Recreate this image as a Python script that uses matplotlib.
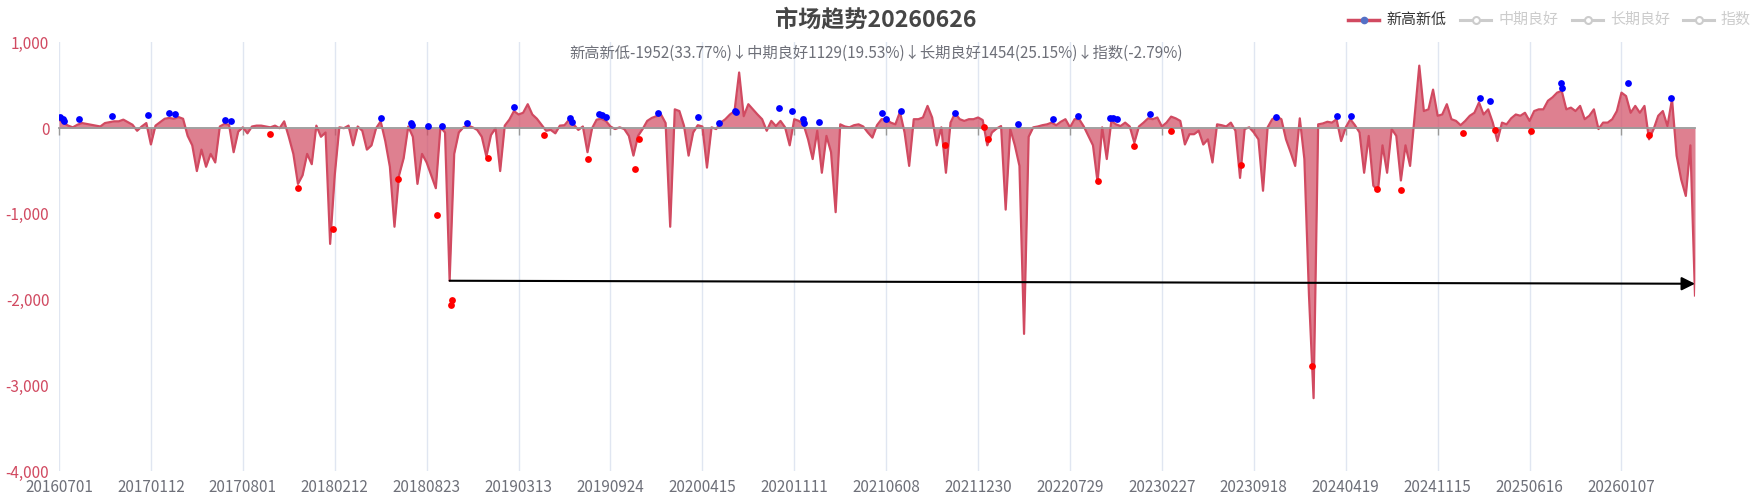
import numpy as np
import matplotlib
matplotlib.use("Agg")
import matplotlib.pyplot as plt
from matplotlib.lines import Line2D
from matplotlib.ticker import FuncFormatter

plt.rcParams['font.family'] = ['Noto Sans CJK SC', 'DejaVu Sans']

# ---- data (one value per sample step) ----
tick_labels = ['20160701', '20170112', '20170801', '20180212', '20180823',
               '20190313', '20190924', '20200415', '20201111', '20210608',
               '20211230', '20220729', '20230227', '20230918', '20240419',
               '20241115', '20250616', '20260107']
samples_per_tick = 20

xin_gao_xin_di = [
    100, 60, 30, 10, 40, 60, 50, 40, 30, 20, 60, 70, 80, 80, 100, 70, 40, -30, 20, 60,
    -190, 30, 70, 110, 120, 110, 130, 110, -90, -200, -500, -250, -450, -300, -400, 20, 50, 40, -280, -40,
    10, -60, 20, 30, 30, 20, 10, 30, 0, 80, -100, -300, -650, -550, -300, -420, 30, -100, -50, -1350,
    -550, 10, 0, 30, -200, 20, -30, -250, -200, 0, 80, -150, -450, -1150, -550, -350, 20, -100, -650, -300,
    -400, -550, -700, 10, -50, -1780, -300, -50, 10, 30, 10, -20, -100, -330, -80, 0, -500, 30, 100, 200,
    160, 180, 280, 160, 110, 40, -30, -20, -60, 30, 35, 100, 45, -20, 20, -280, 0, 100, 110, 85,
    20, -10, 10, -10, -90, -320, -90, -10, 85, 120, 140, 160, 60, -1150, 220, 200, 30, -320, -50, 35,
    20, -460, 10, -10, 65, 105, 160, 200, 650, 140, 280, 220, 160, 105, -30, 85, 25, 85, 10, -200,
    105, 85, 45, -130, -360, -30, -520, -90, -280, -980, 45, 20, 10, 35, 45, 20, -50, -110, 35, 105,
    105, 65, 45, 190, -50, -440, 105, 105, 125, 260, 125, -200, 10, -520, 65, 175, 105, 85, 105, 105,
    125, 95, -200, -50, -5, 25, -950, -10, -200, -440, -2400, -100, 10, 20, 35, 45, 65, 35, 75, 105,
    10, 105, 105, 20, -90, -200, -630, 10, -360, 85, 45, 25, 65, 20, -170, 20, 65, 115, 105, 125,
    20, 65, 135, 115, 85, -190, -70, -70, -30, -190, -130, -400, 45, 35, 20, 65, -30, -580, -10, 10,
    -50, -130, -730, 10, 105, 135, 105, -130, -280, -440, 115, -360, -1950, -3150, 45, 55, 75, 65, 105, -150,
    10, 105, 35, -50, -520, -90, -670, -730, -200, -520, -10, -90, -610, -200, -440, 145, 730, 200, 220, 450,
    145, 160, 280, 105, 85, 35, 85, 145, 180, 300, 160, 220, 65, -150, 65, 45, 115, 160, 145, 180,
    85, 200, 220, 220, 320, 360, 415, 435, 220, 240, 200, 260, 105, 145, 220, -10, 65, 65, 105, 200,
    415, 375, 180, 260, 180, 260, -130, -10, 145, 200, 25, 340, -320, -600, -790, -200, -1952,
]

blue_pos = [0.2, 0.8, 1.1, 4.4, 11.6, 19.4, 23.9, 25.2, 36.2, 37.4, 70, 76.6, 76.8,
            80.2, 83.3, 88.7, 99.0, 111.2, 111.6, 117.4, 118.1, 119.0, 130.3, 139.1,
            143.7, 147.0, 147.3, 156.7, 159.4, 161.8, 162.2, 165.3, 179.0, 180.0,
            183.2, 195.0, 208.6, 216.2, 221.7, 228.7, 229.4, 230.3, 237.3, 264.9,
            278.1, 281.1, 309.2, 311.3, 326.9, 327.1, 341.4, 350.8]
blue_val = [130, 105, 85, 113, 144, 152, 175, 163, 97, 82, 117, 55, 39,
            23, 23, 66, 253, 120, 78, 163, 155, 136, 175, 128,
            66, 206, 194, 233, 206, 113, 66, 78, 175, 105,
            195, 183, 47, 109, 148, 121, 117, 113, 160, 136,
            144, 140, 350, 315, 533, 467, 533, 354]

red_pos = [45.9, 51.9, 59.7, 73.8, 82.2, 85.5, 85.3, 93.3, 105.6, 115.2, 125.3,
           126.2, 192.8, 201.3, 202.1, 226.0, 234.0, 241.9, 257.2, 272.7, 286.9,
           292.1, 305.5, 312.5, 320.3, 345.9]
red_val = [-70, -700, -1180, -587, -1015, -2000, -2060, -342, -78, -354, -478,
           -128, -195, 19, -128, -615, -206, -31, -432, -2778, -708,
           -720, -54, -16, -27, -74]

arrow_from = (85, -1780)
arrow_to = (356, -1815)

title = '市场趋势20260626'
subtitle = ('新高新低-1952(33.77%)↓中期良好1129(19.53%)↓'
            '长期良好1454(25.15%)↓指数(-2.79%)')
legend_names = ['新高新低', '中期良好', '长期良好', '指数']

# ---- style ----
RED = '#d14a61'
GRID = '#e0e6f1'
W, H = 1763, 503

fig = plt.figure(figsize=(W / 100, H / 100), dpi=100)
ax = fig.add_axes([59 / W, 1 - 471 / H, (1695 - 59) / W, (471 - 42.5) / H])

x = np.arange(len(xin_gao_xin_di))
y = np.array(xin_gao_xin_di)
ticks = np.arange(len(tick_labels)) * samples_per_tick

ax.fill_between(x, y, 0, color=RED, alpha=0.7, lw=0, zorder=2)
ax.plot(x, y, color=RED, lw=1.6, zorder=3)
ax.scatter(blue_pos, blue_val, s=24, color='#0000ff', zorder=5, lw=0)
ax.scatter(red_pos, red_val, s=24, color='#ff0000', zorder=5, lw=0)
ax.annotate('', xy=arrow_to, xytext=arrow_from,
            arrowprops=dict(arrowstyle='-|>', color='black', lw=1.5,
                            mutation_scale=20, shrinkA=0, shrinkB=0),
            zorder=6)

ax.set_xlim(0, len(x) - 1)
ax.set_ylim(-4000, 1000)
ax.set_yticks(np.arange(-4000, 1001, 1000))
ax.yaxis.set_major_formatter(FuncFormatter(lambda v, p: f'{v:,.0f}'))
ax.tick_params(axis='y', length=0, labelsize=11, labelcolor=RED, pad=7)

# x axis line sits on zero, labels at the bottom
ax.set_xticks(ticks)
ax.spines['bottom'].set_position(('data', 0))
ax.spines['bottom'].set_color('#9a9a9a')
ax.spines['bottom'].set_linewidth(1.3)
ax.spines['bottom'].set_bounds(0, len(x) - 1)
ax.spines['bottom'].set_zorder(4)
ax.tick_params(axis='x', length=5, width=1, color='#9a9a9a', labelbottom=False)
for s in ['top', 'right', 'left']:
    ax.spines[s].set_visible(False)
ax.grid(axis='x', color=GRID, lw=1, zorder=0)
ax.set_axisbelow(True)

sec = ax.secondary_xaxis('bottom')
sec.set_xticks(ticks)
sec.set_xticklabels(tick_labels)
sec.tick_params(length=0, labelsize=11, labelcolor='#6e7079', pad=6)
sec.spines['bottom'].set_visible(False)

# titles
fig.text(876 / W, 1 - 20 / H, title, ha='center', va='center',
         fontsize=16.7, fontweight='bold', color='#464646')
fig.text(876 / W, 1 - 53 / H, subtitle, ha='center', va='center',
         fontsize=11, color='#6e7079')

# legend drawn by hand (first item active, rest greyed out)
icon_x = [1348, 1460, 1572, 1683]
ly = 1 - 19.5 / H
for i, name in enumerate(legend_names):
    x0 = icon_x[i] / W
    x1 = (icon_x[i] + 31) / W
    xm = (icon_x[i] + 15.5) / W
    if i == 0:
        fig.add_artist(Line2D([x0, x1], [ly, ly], color=RED, lw=2.5))
        fig.add_artist(Line2D([xm], [ly], marker='o', ms=4.5, color='#5470c6', lw=0))
        col = '#333333'
    else:
        fig.add_artist(Line2D([x0, x1], [ly, ly], color='#cccccc', lw=2.2))
        fig.add_artist(Line2D([xm], [ly], marker='o', ms=5, mfc='white',
                              mec='#cccccc', mew=1.5, lw=0))
        col = '#cccccc'
    fig.text((icon_x[i] + 38) / W, ly, name, ha='left', va='center',
             fontsize=10.8, color=col)

fig.savefig('out.png', dpi=100)
